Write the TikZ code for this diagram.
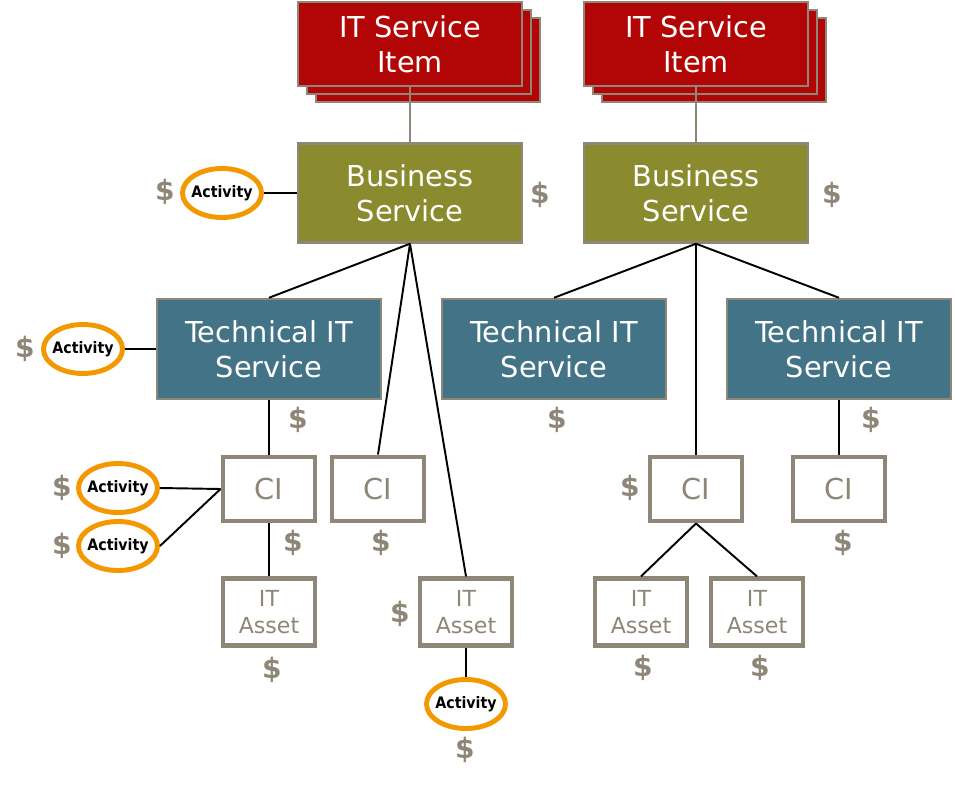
\documentclass[tikz,border=0pt]{standalone}
\usepackage{fontspec}
\setmainfont{DejaVu Sans}
\newfontfamily\actfont{DejaVu Sans Condensed}
\usepackage{tikz}
\usetikzlibrary{shapes.geometric, shadows}

\definecolor{itemred}{HTML}{B20606}
\definecolor{busolive}{HTML}{8A8A2E}
\definecolor{techteal}{HTML}{427386}
\definecolor{framegray}{HTML}{8E8677}
\definecolor{actorange}{HTML}{F39800}

\tikzset{
  bigbox/.style={rectangle, draw=framegray, line width=1.4pt, text=white,
    minimum width=224*0.02cm, align=center, inner sep=0pt,
    font=\fontsize{16.4}{19.8}\selectfont},
  itembox/.style={bigbox, fill=itemred, minimum height=84*0.02cm,
    double copy shadow={shadow xshift=9*0.02cm, shadow yshift=-8*0.02cm}},
  busbox/.style={bigbox, fill=busolive, minimum height=99*0.02cm},
  techbox/.style={bigbox, fill=techteal, minimum height=100*0.02cm},
  cibox/.style={rectangle, draw=framegray, line width=2.8pt, fill=white,
    text=framegray, minimum width=92*0.02cm, minimum height=64*0.02cm,
    inner sep=0pt, font=\fontsize{16.4}{19.8}\selectfont},
  assetbox/.style={rectangle, draw=framegray, line width=2.4pt, fill=white,
    text=framegray, minimum width=92*0.02cm, minimum height=67*0.02cm,
    inner sep=0pt, align=center, font=\fontsize{12.6}{15.3}\selectfont},
  activity/.style={ellipse, draw=actorange, line width=2.8pt, fill=white,
    minimum width=79*0.02cm, minimum height=49*0.02cm, inner xsep=-5pt,
    inner ysep=0pt, font=\actfont\bfseries\fontsize{9}{10}\selectfont},
  cost/.style={text=framegray, font=\bfseries\fontsize{16}{18}\selectfont},
  link/.style={line width=1.1pt},
}

\begin{document}
\begin{tikzpicture}[x=0.02cm, y=-0.02cm]
  \useasboundingbox (0,0) rectangle (955,787);

  % service items and business services
  \node[itembox] (item1) at (410,44) {IT Service\\Item};
  \node[itembox] (item2) at (696,44) {IT Service\\Item};
  \node[busbox] (bus1) at (410,193) {Business\\Service};
  \node[busbox] (bus2) at (696,193) {Business\\Service};

  % technical services
  \node[techbox] (tech1) at (269,349) {Technical IT\\Service};
  \node[techbox] (tech2) at (554,349) {Technical IT\\Service};
  \node[techbox] (tech3) at (839,349) {Technical IT\\Service};

  % configuration items
  \node[cibox] (ci1) at (269,489) {CI};
  \node[cibox] (ci2) at (378,489) {CI};
  \node[cibox] (ci3) at (696,489) {CI};
  \node[cibox] (ci4) at (839,489) {CI};

  % assets
  \node[assetbox] (asset1) at (269,612) {IT\\Asset};
  \node[assetbox] (asset2) at (466,612) {IT\\Asset};
  \node[assetbox] (asset3) at (641,612) {IT\\Asset};
  \node[assetbox] (asset4) at (757,612) {IT\\Asset};

  % activities
  \node[activity] (act1) at (222,193) {Activity};
  \node[activity] (act2) at (83,349) {Activity};
  \node[activity] (act3) at (118,488) {Activity};
  \node[activity] (act4) at (118,546) {Activity};
  \node[activity] (act5) at (466,704) {Activity};

  % links
  \draw[framegray, line width=1.1pt] (item1.south) -- (bus1.north);
  \draw[framegray, line width=1.1pt] (item2.south) -- (bus2.north);
  \draw[link] (bus1.south) -- (tech1.north);
  \draw[link] (bus1.south) -- (ci2.north);
  \draw[link] (bus1.south) -- (asset2.north);
  \draw[link] (bus2.south) -- (tech2.north);
  \draw[link] (bus2.south) -- (ci3.north);
  \draw[link] (bus2.south) -- (tech3.north);
  \draw[link] (tech1.south) -- (ci1.north);
  \draw[link] (tech3.south) -- (ci4.north);
  \draw[link] (ci1.south) -- (asset1.north);
  \draw[link] (ci3.south) -- (asset3.north);
  \draw[link] (ci3.south) -- (asset4.north);
  \draw[link] (asset2.south) -- (act5.north);
  \draw[link] (act1.east) -- (bus1.west);
  \draw[link] (act2.east) -- (tech1.west);
  \draw[link] (act3.east) -- (ci1.west);
  \draw[link] (act4.east) -- (ci1.west);

  % costs
  \foreach \cx/\cy in {165/192, 540/195, 832/195, 25/349, 298/420, 557/420,
      871/420, 62/488, 62/546, 293/543, 381/543, 630/488, 843/543,
      272/670, 400/614, 643/668, 760/668, 465/750}
    \node[cost] at (\cx,\cy) {\$};
\end{tikzpicture}
\end{document}
